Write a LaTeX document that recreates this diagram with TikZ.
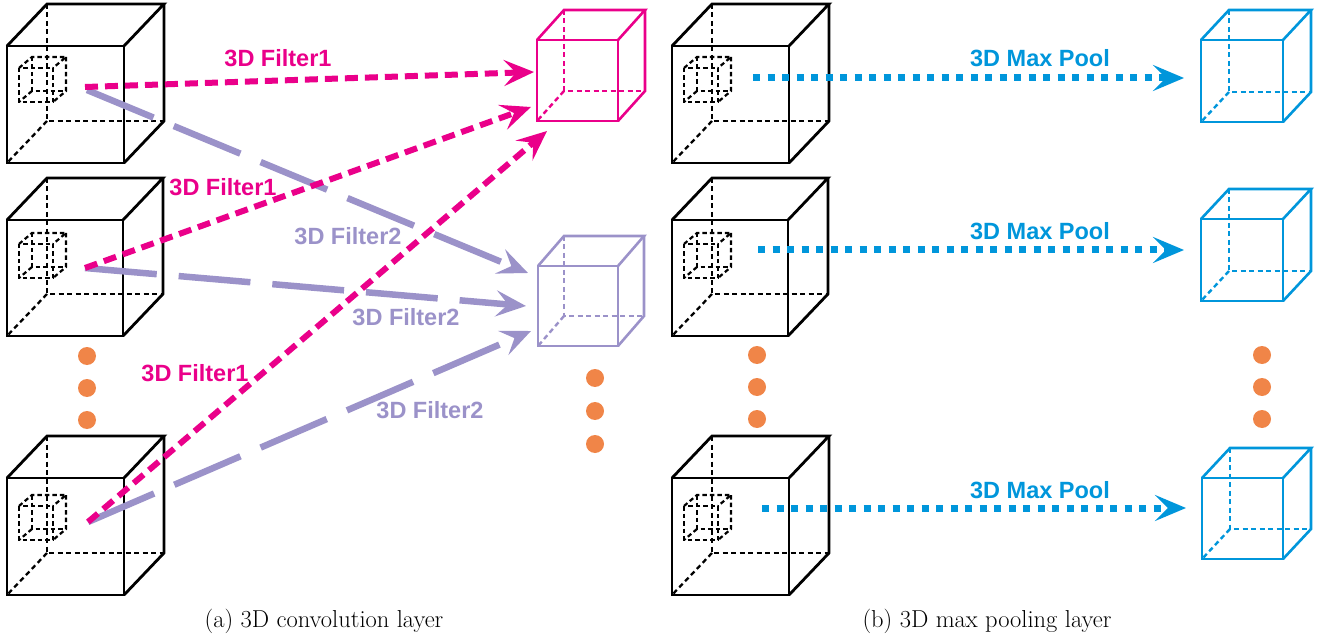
\documentclass[tikz,border=0pt]{standalone}
\usepackage{fontspec}
\newfontfamily\labfont{Liberation Sans}
\usetikzlibrary{arrows.meta}
\definecolor{pinkc}{RGB}{234,0,138}
\definecolor{purc}{RGB}{155,146,201}
\definecolor{bluec}{RGB}{0,150,219}
\definecolor{orc}{RGB}{240,133,72}
\tikzset{
  blk/.style={draw=black, line width=2.8pt, line join=miter},
  blkhid/.style={draw=black, line width=2.3pt, dash pattern=on 5pt off 3.5pt},
  smallc/.style={draw=black, line width=2.2pt, dash pattern=on 4.5pt off 3pt},
  pkc/.style={draw=pinkc, line width=2.6pt, line join=miter},
  pkhid/.style={draw=pinkc, line width=2.4pt, dash pattern=on 5pt off 3.5pt},
  puc/.style={draw=purc, line width=2.6pt, line join=miter},
  puhid/.style={draw=purc, line width=2.4pt, dash pattern=on 5pt off 3.5pt},
  blc/.style={draw=bluec, line width=2.6pt, line join=miter},
  blhid/.style={draw=bluec, line width=2.4pt, dash pattern=on 5pt off 3.5pt},
  pinkarrow/.style={draw=pinkc, line width=6pt, dash pattern=on 13pt off 7pt,
    -{Stealth[length=30pt,width=26pt,inset=12pt]}},
  purarrow/.style={draw=purc, line width=6.5pt, dash pattern=on 72pt off 22pt,
    -{Stealth[length=30pt,width=26pt,inset=12pt]}},
  bluearrow/.style={draw=bluec, line width=7pt, dash pattern=on 7pt off 7.5pt,
    -{Stealth[length=31pt,width=26pt,inset=13pt]}},
  lab/.style={font=\labfont\bfseries\fontsize{23.5}{24}\selectfont, inner sep=0pt},
  pinklab/.style={lab, text=pinkc},
  purlab/.style={lab, text=purc},
  bluelab/.style={lab, text=bluec},
  odot/.style={fill=orc, draw=none, circle, minimum size=18pt, inner sep=0pt},
  captext/.style={font=\fontsize{24.5}{28}\selectfont, inner sep=0pt},
}
% #1 x, #2 y (front top-left), #3 size, #4 dx, #5 dy (upward), #6 solid style, #7 hidden style
\newcommand{\mycube}[7]{%
  \begin{scope}[shift={(#1,#2)}]
    \draw[#7] (#4,-#5) -- (#4,#3-#5) -- (#3+#4,#3-#5);
    \draw[#7] (#4,#3-#5) -- (0,#3);
    \draw[#6] (0,0) rectangle (#3,#3);
    \draw[#6] (0,0) -- (#4,-#5) -- (#3+#4,-#5) -- (#3,0);
    \draw[#6] (#3+#4,-#5) -- (#3+#4,#3-#5) -- (#3,#3);
  \end{scope}}
\begin{document}
\begin{tikzpicture}[x=1pt,y=-1pt]
\useasboundingbox (0,0) rectangle (1318,639);

% ---------- (a) left input cubes ----------
\mycube{7}{46}{117}{40}{42}{blk}{blkhid}
\mycube{19}{68}{34}{13}{11}{smallc}{smallc}
\mycube{7}{220}{116}{40}{42}{blk}{blkhid}
\mycube{19}{244}{34}{13}{11}{smallc}{smallc}
\mycube{7}{478}{117}{40}{42}{blk}{blkhid}
\mycube{19}{506}{34}{13}{11}{smallc}{smallc}

% output cubes
\mycube{537}{40}{81}{27}{30}{pkc}{pkhid}
\mycube{538}{266}{80}{26}{30}{puc}{puhid}

% dots
\node[odot] (d1) at (87,356) {};
\node[odot] (d2) at (87,388) {};
\node[odot] (d3) at (87,420) {};
\node[odot] (d4) at (595,378) {};
\node[odot] (d5) at (595,411) {};
\node[odot] (d6) at (595,444) {};

% connector end points
\coordinate (a1) at (85,87);
\coordinate (a2) at (85,268);
\coordinate (a3) at (88,522);
\coordinate (b1) at (87,90);
\coordinate (pk1) at (534,72);
\coordinate (pk2) at (531,107);
\coordinate (pk3) at (547,131);
\coordinate (pu1) at (528,273);
\coordinate (pu2) at (526,306);
\coordinate (pu3) at (531,331);

\draw[purarrow] (b1) -- (pu1);
\draw[purarrow] (a2) -- (pu2);
\draw[purarrow] (a3) -- (pu3);
\draw[pinkarrow] (a1) -- (pk1);
\draw[pinkarrow] (a2) -- (pk2);
\draw[pinkarrow] (a3) -- (pk3);

\node[pinklab] (f11) at (278,58) {3D Filter1};
\node[pinklab] (f12) at (223,187) {3D Filter1};
\node[pinklab] (f13) at (195,373) {3D Filter1};
\node[purlab] (f21) at (348,236) {3D Filter2};
\node[purlab] (f22) at (406,317) {3D Filter2};
\node[purlab] (f23) at (430,410) {3D Filter2};

% ---------- (b) max pooling ----------
\mycube{672}{46}{117}{40}{42}{blk}{blkhid}
\mycube{684}{68}{34}{13}{11}{smallc}{smallc}
\mycube{672}{220}{116}{40}{42}{blk}{blkhid}
\mycube{684}{244}{34}{13}{11}{smallc}{smallc}
\mycube{672}{478}{117}{40}{42}{blk}{blkhid}
\mycube{684}{506}{34}{13}{11}{smallc}{smallc}

\mycube{1201}{40}{82}{28}{30}{blc}{blhid}
\mycube{1201}{219}{82}{28}{30}{blc}{blhid}
\mycube{1202}{478}{81}{28}{30}{blc}{blhid}

\node[odot] (e1) at (757,355) {};
\node[odot] (e2) at (757,387) {};
\node[odot] (e3) at (757,419) {};
\node[odot] (e4) at (1262,355) {};
\node[odot] (e5) at (1262,387) {};
\node[odot] (e6) at (1262,419) {};

\coordinate (m1) at (753,78);
\coordinate (m2) at (758,250);
\coordinate (m3) at (762,508);
\coordinate (n1) at (1184,78);
\coordinate (n2) at (1184,250);
\coordinate (n3) at (1186,508);
\draw[bluearrow] (m1) -- (n1);
\draw[bluearrow] (m2) -- (n2);
\draw[bluearrow] (m3) -- (n3);

\node[bluelab] (p1) at (1040,58) {3D Max Pool};
\node[bluelab] (p2) at (1040,231) {3D Max Pool};
\node[bluelab] (p3) at (1040,490) {3D Max Pool};

% captions
\node[captext] (ca) at (324,621) {(a) 3D convolution layer};
\node[captext] (cb) at (987,621) {(b) 3D max pooling layer};
\end{tikzpicture}
\end{document}
